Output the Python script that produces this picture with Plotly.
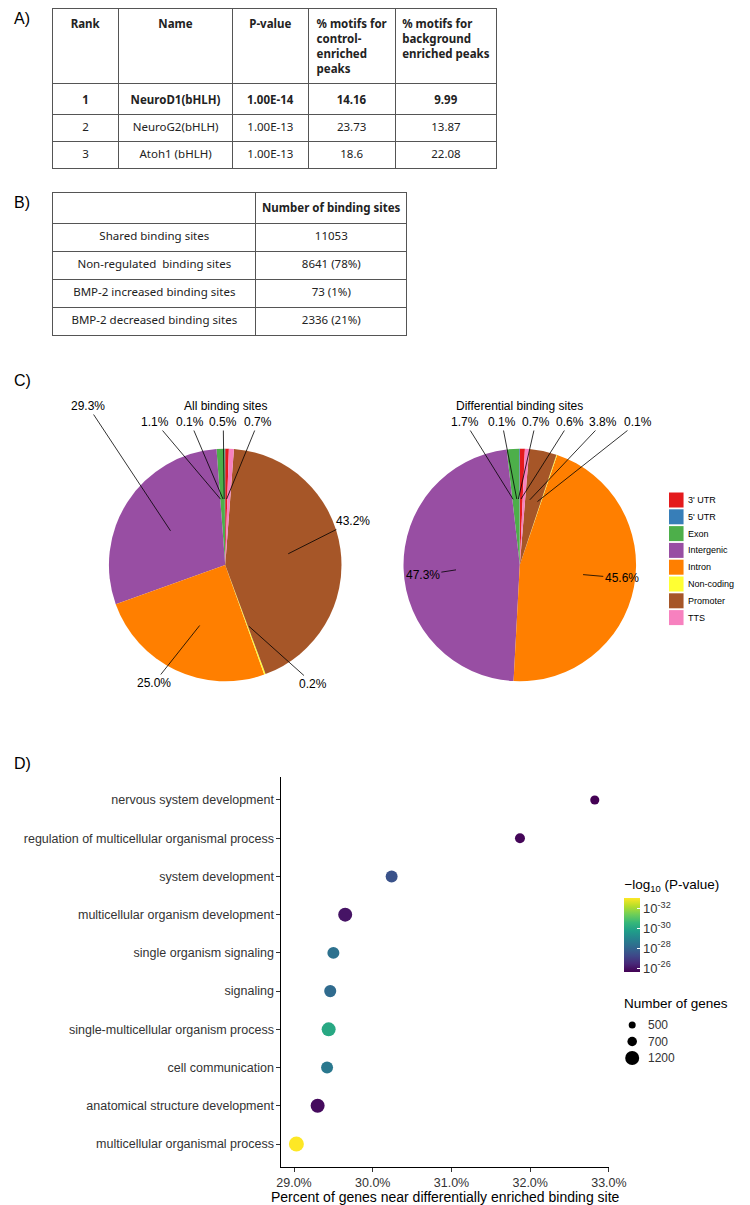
import math
import plotly.graph_objects as go

# the page body keeps an 8px margin, so the figure is drawn 8px in from the corner
OFF = 8
W, H = 750 - OFF, 1205 - OFF

# ---- A) motif table
motif_header = ["Rank", "Name", "P-value", "% motifs for<br>control-<br>enriched<br>peaks",
                "% motifs for<br>background<br>enriched peaks"]
motif_rank = ["1", "2", "3"]
motif_name = ["NeuroD1(bHLH)", "NeuroG2(bHLH)", "Atoh1 (bHLH)"]
motif_pvalue = ["1.00E-14", "1.00E-13", "1.00E-13"]
motif_control = ["14.16", "23.73", "18.6"]
motif_background = ["9.99", "13.87", "22.08"]

# ---- B) binding site table
site_header = ["", "Number of binding sites"]
site_labels = ["Shared binding sites", "Non-regulated  binding sites",
               "BMP-2 increased binding sites", "BMP-2 decreased binding sites"]
site_counts = ["11053", "8641 (78%)", "73 (1%)", "2336 (21%)"]

# ---- C) genomic annotation pies
regions = ["3' UTR", "5' UTR", "Exon", "Intergenic", "Intron", "Non-coding", "Promoter", "TTS"]
region_colors = ["#e41a1c", "#377eb8", "#4daf4a", "#984ea3", "#ff7f00", "#ffff33", "#a65628", "#f781bf"]
all_pct = [0.5, 0.1, 1.1, 29.3, 25.0, 0.2, 43.2, 0.7]
diff_pct = [0.7, 0.1, 1.7, 47.3, 45.6, 0.1, 3.8, 0.6]

# ---- D) GO terms (bottom to top)
go_terms = ["multicellular organismal process", "anatomical structure development",
            "cell communication", "single-multicellular organism process", "signaling",
            "single organism signaling", "multicellular organism development",
            "system development", "regulation of multicellular organismal process",
            "nervous system development"]
gene_pct = [29.03, 29.30, 29.42, 29.44, 29.46, 29.50, 29.65, 30.24, 31.87, 32.82]
neg_log_p = [33.1, 25.8, 28.6, 30.1, 28.2, 28.4, 26.0, 27.5, 25.7, 25.6]
gene_count = [1340, 1200, 950, 1200, 960, 950, 1200, 950, 740, 660]
size_breaks = [500, 700, 1200]
p_ticks = [26, 28, 30, 32]


def px(x):
    return (x - OFF) / W


def py(y):
    return 1 - (y - OFF) / H


def dot_size(n):
    # area-like scale similar to ggplot scale_size
    return math.sqrt(0.21 * n - 56)


TXT = "Liberation Sans, Arial, sans-serif"
TBL = "Noto Sans, Open Sans, sans-serif"
nb = lambda s: s.replace(" ", "\u00a0")
bold = lambda v: f"<b>{v}</b>"

fig = go.Figure()

cols = [motif_rank, motif_name, motif_pvalue, motif_control, motif_background]
cols = [[bold(c[0])] + c[1:] for c in cols]

fig.add_trace(go.Table(
    domain=dict(x=[px(49), px(508)], y=[py(175), py(8)]),
    columnwidth=[68, 118, 78, 90, 105],
    header=dict(values=[bold(h) for h in motif_header], align="center", height=74,
                line=dict(color="#555", width=1), fill=dict(color="white"),
                font=dict(family=TBL, size=11.5, color="#222")),
    cells=dict(values=cols, align="center", height=27,
               line=dict(color="#555", width=1), fill=dict(color="white"),
               font=dict(family=TBL, size=11.5, color="#222")),
))

fig.add_trace(go.Table(
    domain=dict(x=[px(49), px(415)], y=[py(345), py(192)]),
    columnwidth=[210, 156],
    header=dict(values=[bold(nb(h)) for h in site_header], align="center", height=28,
                line=dict(color="#555", width=1), fill=dict(color="white"),
                font=dict(family=TBL, size=11.5, color="#222")),
    cells=dict(values=[site_labels, site_counts], align="center", height=28,
               line=dict(color="#555", width=1), fill=dict(color="white"),
               font=dict(family=TBL, size=11.5, color="#222")),
))

# pies
pies = [
    dict(vals=all_pct, cx=227, cy=565, r=120, title="All binding sites",
         labels={0: (225, 422), 1: (192, 422), 2: (157, 422), 3: (88, 406),
                 4: (155, 683), 5: (316, 684), 6: (357, 521), 7: (260, 422)}),
    dict(vals=diff_pct, cx=531, cy=565, r=120, title="Differential binding sites",
         labels={0: (547, 422), 1: (513, 422), 2: (476, 422), 3: (432, 575),
                 4: (635, 578), 5: (650, 422), 6: (615, 422), 7: (581, 422)}),
]

annotations = []
for p in pies:
    fig.add_trace(go.Pie(
        labels=regions, values=p["vals"], sort=False, direction="counterclockwise",
        rotation=0, textinfo="none", showlegend=False,
        marker=dict(colors=region_colors, line=dict(width=0)),
        domain=dict(x=[px(p["cx"] - p["r"]), px(p["cx"] + p["r"])],
                    y=[py(p["cy"] + p["r"]), py(p["cy"] - p["r"])]),
    ))
    annotations.append(dict(x=px(p["cx"]), y=py(406), text=p["title"], showarrow=False,
                            xanchor="center", yanchor="middle",
                            font=dict(family=TXT, size=12, color="black")))
    total = sum(p["vals"])
    cum = 0
    for i, v in enumerate(p["vals"]):
        mid = (cum + v / 2) / total * 2 * math.pi
        cum += v
        ax_ = p["cx"] - math.sin(mid) * p["r"] * 0.55
        ay_ = p["cy"] - math.cos(mid) * p["r"] * 0.55
        lx, ly = p["labels"][i]
        annotations.append(dict(
            x=px(ax_), y=py(ay_), ax=lx - ax_, ay=ly - ay_, text=f"{v:.1f}%",
            showarrow=True, arrowhead=0, arrowwidth=0.8, arrowcolor="black", standoff=0,
            font=dict(family=TXT, size=12, color="black"), borderpad=1))

# pie legend
shapes = []
for i, (name, col) in enumerate(zip(regions, region_colors)):
    yc = 500 + 16.8 * i
    shapes.append(dict(type="rect", xref="paper", yref="paper", x0=px(685), x1=px(700),
                       y0=py(yc + 7.5), y1=py(yc - 7.5), fillcolor=col, line=dict(width=0)))
    annotations.append(dict(x=px(703), y=py(yc), text=name, showarrow=False,
                            xanchor="left", yanchor="middle",
                            font=dict(family=TXT, size=9, color="black")))

# dot plot
fig.add_trace(go.Scatter(
    x=gene_pct, y=go_terms, mode="markers", showlegend=False, xaxis="x", yaxis="y",
    marker=dict(size=[dot_size(n) for n in gene_count], color=neg_log_p,
                colorscale="Viridis", cmin=min(neg_log_p), cmax=max(neg_log_p),
                line=dict(width=0), opacity=1,
                colorbar=dict(x=px(639), xanchor="left", y=py(972), yanchor="bottom",
                              len=96, lenmode="pixels", thickness=16, xpad=0, ypad=0,
                              outlinewidth=0, tickvals=p_ticks,
                              ticktext=[f"10<sup>-{t}</sup>" for t in p_ticks],
                              ticks="inside", ticklen=3, tickcolor="white",
                              tickfont=dict(family=TXT, size=13, color="#333"),
                              title=dict(text="\u2212log<sub>10</sub> (P-value)", side="top",
                                         font=dict(family=TXT, size=13.5, color="black")))),
))

# size legend
annotations.append(dict(x=px(636), y=py(1003), text="Number of genes", showarrow=False,
                        xanchor="left", yanchor="middle",
                        font=dict(family=TXT, size=13.5, color="black")))
for i, n in enumerate(size_breaks):
    yc = 1025 + 16.5 * i
    d = dot_size(n)
    shapes.append(dict(type="circle", xref="paper", yref="paper", xsizemode="pixel",
                       ysizemode="pixel", xanchor=px(647), yanchor=py(yc),
                       x0=-d / 2, x1=d / 2, y0=-d / 2, y1=d / 2,
                       fillcolor="black", line=dict(width=0)))
    annotations.append(dict(x=px(661), y=py(yc), text=str(n), showarrow=False,
                            xanchor="left", yanchor="middle",
                            font=dict(family=TXT, size=12, color="#333")))

# panel letters
for letter, yy in [("A)", 18), ("B)", 203), ("C)", 380), ("D)", 763)]:
    annotations.append(dict(x=0, y=py(yy), text=letter, showarrow=False,
                            xanchor="left", yanchor="middle", borderpad=0,
                            font=dict(family=TXT, size=16, color="black")))

for a in annotations:
    a.update(xref="paper", yref="paper")

fig.update_layout(
    width=W, height=H, margin=dict(l=0, r=0, t=0, b=0),
    paper_bgcolor="white", plot_bgcolor="white",
    xaxis=dict(domain=[px(285), px(623)], range=[28.84, 33.0], tickvals=[29, 30, 31, 32, 33],
               ticktext=["29.0%", "30.0%", "31.0%", "32.0%", "33.0%"],
               showline=True, linecolor="black", linewidth=1, ticks="outside", ticklen=4,
               tickcolor="#333", showgrid=False, zeroline=False,
               tickfont=dict(family=TXT, size=12.5, color="#333"),
               title=dict(text="Percent of genes near differentially enriched binding site",
                          standoff=2, font=dict(family=TXT, size=14, color="black"))),
    yaxis=dict(domain=[py(1167), py(777)], categoryorder="array", categoryarray=go_terms,
               range=[-0.6, 9.6], showline=True, linecolor="black", linewidth=1,
               ticks="outside", ticklen=4, tickcolor="#333", showgrid=False, zeroline=False,
               tickfont=dict(family=TXT, size=12.5, color="#333")),
    annotations=annotations, shapes=shapes,
)

fig.write_html("out.html")
